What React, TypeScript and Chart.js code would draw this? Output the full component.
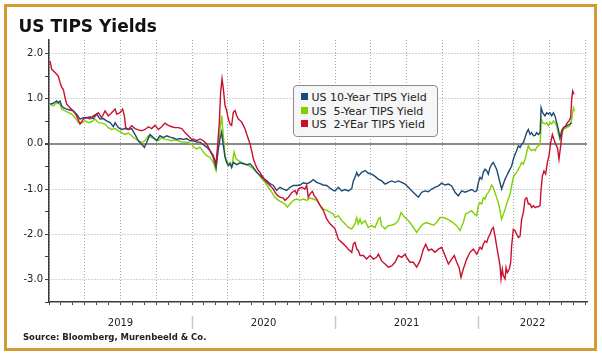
import React, { useEffect, useRef } from "react";
import { Chart, registerables } from "chart.js";

Chart.register(...registerables);

const FONT = "'DejaVu Sans', Verdana, sans-serif";

const SERIES_LABELS = ["US 10-Year TIPS Yield", "US  5-Year TIPS Yield", "US  2-YEar TIPS Yield"];
const SERIES_COLORS = ["#1C4A74", "#7FD000", "#C8102E"];
const YEAR_LABELS = ["2019", "2020", "2021", "2022"];
const YEAR_LABEL_AT = [2019.5, 2020.5, 2021.5, 2022.381];
const YEAR_BREAKS = [2020, 2021, 2022];
const Y_TICKS = [-3.5, -3, -2.5, -2, -1.5, -1, -0.5, 0, 0.5, 1, 1.5, 2];
const X_MIN = 2019;
const X_MAX = 2022.762;
const Y_MIN = -3.5;
const Y_MAX = 2.3;
const TITLE = "US TIPS Yields";
const SOURCE = "Source: Bloomberg, Murenbeeld & Co.";

// [decimal year, yield %]
const TEN_YEAR: [number, number][] = [
  [2019.007,0.88],[2019.030,0.90],[2019.054,0.95],[2019.065,0.91],[2019.077,0.95],[2019.089,0.84],[2019.100,0.80],[2019.124,0.77],[2019.147,0.75],[2019.170,0.73],[2019.193,0.66],[2019.217,0.55],[2019.240,0.58],[2019.263,0.58],[2019.287,0.60],[2019.310,0.56],[2019.333,0.66],[2019.357,0.55],[2019.380,0.56],[2019.403,0.51],[2019.427,0.47],[2019.450,0.38],[2019.462,0.47],[2019.485,0.36],[2019.508,0.32],[2019.531,0.34],[2019.555,0.32],[2019.578,0.34],[2019.601,0.21],[2019.625,0.07],[2019.648,-0.01],[2019.667,-0.08],[2019.683,0.03],[2019.706,0.21],[2019.730,0.14],[2019.753,0.07],[2019.776,0.18],[2019.800,0.14],[2019.823,0.18],[2019.846,0.15],[2019.869,0.13],[2019.893,0.10],[2019.916,0.12],[2019.939,0.10],[2019.963,0.12],[2019.986,0.07],
  [2020.009,0.07],[2020.033,0.04],[2020.056,0.04],[2020.079,-0.02],[2020.103,-0.07],[2020.126,-0.15],[2020.149,-0.30],[2020.168,-0.52],[2020.184,-0.11],[2020.196,0.11],[2020.207,0.26],[2020.219,-0.04],[2020.231,-0.30],[2020.242,-0.41],[2020.254,-0.48],[2020.266,-0.44],[2020.277,-0.52],[2020.289,-0.41],[2020.312,-0.46],[2020.336,-0.42],[2020.359,-0.44],[2020.382,-0.46],[2020.406,-0.44],[2020.429,-0.52],[2020.452,-0.63],[2020.476,-0.70],[2020.499,-0.77],[2020.522,-0.81],[2020.545,-0.88],[2020.569,-0.92],[2020.592,-1.03],[2020.615,-0.96],[2020.639,-1.00],[2020.662,-1.03],[2020.685,-0.96],[2020.709,-0.92],[2020.732,-0.92],[2020.755,-0.91],[2020.779,-0.86],[2020.802,-0.88],[2020.825,-0.85],[2020.848,-0.79],[2020.872,-0.85],[2020.895,-0.88],[2020.918,-0.91],[2020.942,-0.92],[2020.965,-0.98],[2020.988,-1.03],
  [2021.000,-1.04],[2021.023,-0.96],[2021.047,-1.04],[2021.070,-1.01],[2021.093,-1.04],[2021.117,-0.99],[2021.128,-0.82],[2021.140,-0.74],[2021.152,-0.63],[2021.163,-0.71],[2021.175,-0.67],[2021.186,-0.63],[2021.210,-0.59],[2021.233,-0.65],[2021.256,-0.67],[2021.280,-0.72],[2021.303,-0.78],[2021.326,-0.82],[2021.350,-0.89],[2021.373,-0.85],[2021.396,-0.82],[2021.420,-0.85],[2021.443,-0.82],[2021.466,-0.85],[2021.490,-0.89],[2021.513,-0.96],[2021.536,-1.04],[2021.559,-1.11],[2021.583,-1.18],[2021.606,-1.07],[2021.629,-1.04],[2021.653,-1.06],[2021.676,-1.00],[2021.699,-0.96],[2021.723,-0.93],[2021.746,-0.87],[2021.769,-0.91],[2021.793,-0.89],[2021.816,-0.93],[2021.839,-1.07],[2021.862,-1.15],[2021.886,-1.04],[2021.909,-1.07],[2021.932,-1.04],[2021.956,-1.01],[2021.979,-1.06],[2021.991,-1.04],
  [2022.002,-0.86],[2022.014,-0.74],[2022.026,-0.78],[2022.037,-0.63],[2022.049,-0.56],[2022.061,-0.60],[2022.072,-0.67],[2022.084,-0.52],[2022.096,-0.45],[2022.107,-0.41],[2022.119,-0.49],[2022.130,-0.56],[2022.142,-0.71],[2022.154,-0.86],[2022.165,-1.00],[2022.177,-0.89],[2022.189,-0.78],[2022.200,-0.71],[2022.212,-0.63],[2022.224,-0.56],[2022.235,-0.49],[2022.247,-0.34],[2022.259,-0.23],[2022.270,-0.15],[2022.282,-0.04],[2022.294,-0.08],[2022.305,-0.01],[2022.317,0.03],[2022.329,0.14],[2022.340,0.25],[2022.352,0.32],[2022.364,0.21],[2022.375,0.25],[2022.387,0.18],[2022.399,0.19],[2022.410,0.25],[2022.422,0.21],[2022.434,0.25],[2022.441,0.80],[2022.452,0.69],[2022.468,0.62],[2022.480,0.69],[2022.492,0.66],[2022.503,0.69],[2022.515,0.62],[2022.527,0.69],[2022.538,0.62],[2022.550,0.47],[2022.562,0.32],[2022.573,0.14],[2022.585,0.29],[2022.597,0.36],[2022.620,0.40],[2022.643,0.44],[2022.655,0.47],
];

const FIVE_YEAR: [number, number][] = [
  [2019.007,0.88],[2019.030,0.84],[2019.054,0.91],[2019.077,0.88],[2019.089,0.77],[2019.112,0.73],[2019.135,0.69],[2019.159,0.66],[2019.182,0.58],[2019.205,0.47],[2019.228,0.46],[2019.252,0.51],[2019.275,0.47],[2019.298,0.49],[2019.322,0.55],[2019.345,0.47],[2019.368,0.46],[2019.392,0.44],[2019.415,0.36],[2019.438,0.32],[2019.462,0.34],[2019.485,0.29],[2019.508,0.25],[2019.531,0.21],[2019.555,0.24],[2019.578,0.18],[2019.601,0.12],[2019.625,0.07],[2019.648,0.03],[2019.671,0.07],[2019.695,0.18],[2019.718,0.14],[2019.741,0.10],[2019.765,0.07],[2019.788,0.14],[2019.811,0.10],[2019.834,0.09],[2019.858,0.07],[2019.881,0.09],[2019.904,0.07],[2019.928,0.04],[2019.951,0.04],[2019.974,0.03],[2019.998,-0.01],
  [2020.009,-0.07],[2020.033,-0.11],[2020.056,-0.07],[2020.079,-0.18],[2020.103,-0.26],[2020.126,-0.30],[2020.149,-0.41],[2020.168,-0.59],[2020.184,-0.04],[2020.196,0.33],[2020.207,0.63],[2020.219,0.18],[2020.231,-0.26],[2020.242,-0.37],[2020.254,-0.44],[2020.266,-0.41],[2020.277,-0.52],[2020.294,-0.18],[2020.308,-0.33],[2020.324,-0.37],[2020.347,-0.41],[2020.371,-0.44],[2020.394,-0.48],[2020.417,-0.52],[2020.441,-0.59],[2020.464,-0.66],[2020.487,-0.77],[2020.511,-0.85],[2020.534,-0.96],[2020.557,-1.07],[2020.580,-1.18],[2020.604,-1.25],[2020.627,-1.29],[2020.650,-1.33],[2020.667,-1.40],[2020.685,-1.33],[2020.709,-1.25],[2020.732,-1.22],[2020.755,-1.25],[2020.779,-1.22],[2020.802,-1.25],[2020.825,-1.20],[2020.848,-1.22],[2020.872,-1.25],[2020.895,-1.36],[2020.918,-1.44],[2020.942,-1.47],[2020.965,-1.51],[2020.988,-1.55],
  [2021.000,-1.63],[2021.023,-1.59],[2021.047,-1.70],[2021.070,-1.77],[2021.093,-1.85],[2021.117,-1.88],[2021.140,-1.77],[2021.152,-1.63],[2021.163,-1.77],[2021.175,-1.66],[2021.186,-1.77],[2021.210,-1.70],[2021.233,-1.85],[2021.256,-1.81],[2021.280,-1.85],[2021.303,-1.66],[2021.315,-1.63],[2021.326,-1.81],[2021.350,-1.88],[2021.373,-1.81],[2021.396,-1.80],[2021.420,-1.77],[2021.443,-1.70],[2021.462,-1.52],[2021.478,-1.59],[2021.501,-1.66],[2021.524,-1.74],[2021.548,-1.85],[2021.571,-1.96],[2021.594,-1.85],[2021.618,-1.77],[2021.641,-1.74],[2021.664,-1.77],[2021.688,-1.80],[2021.711,-1.74],[2021.734,-1.63],[2021.758,-1.63],[2021.781,-1.66],[2021.804,-1.70],[2021.828,-1.75],[2021.851,-1.81],[2021.874,-1.92],[2021.897,-1.74],[2021.914,-1.55],[2021.932,-1.52],[2021.956,-1.48],[2021.974,-1.55],[2021.991,-1.59],
  [2022.002,-1.37],[2022.014,-1.30],[2022.026,-1.33],[2022.037,-1.19],[2022.049,-1.22],[2022.061,-1.11],[2022.072,-1.08],[2022.084,-1.00],[2022.096,-0.91],[2022.107,-0.97],[2022.119,-1.08],[2022.130,-1.19],[2022.142,-1.30],[2022.154,-1.48],[2022.165,-1.67],[2022.177,-1.56],[2022.189,-1.45],[2022.200,-1.33],[2022.212,-1.22],[2022.224,-1.11],[2022.235,-0.93],[2022.247,-0.74],[2022.259,-0.67],[2022.270,-0.63],[2022.282,-0.56],[2022.294,-0.49],[2022.305,-0.41],[2022.317,-0.45],[2022.329,-0.34],[2022.340,-0.19],[2022.352,-0.04],[2022.364,-0.12],[2022.375,-0.15],[2022.387,-0.12],[2022.399,-0.15],[2022.410,-0.08],[2022.422,-0.04],[2022.434,-0.01],[2022.443,0.55],[2022.452,0.47],[2022.468,0.44],[2022.480,0.47],[2022.492,0.40],[2022.503,0.47],[2022.515,0.44],[2022.527,0.51],[2022.538,0.47],[2022.550,0.40],[2022.562,0.21],[2022.573,0.10],[2022.585,0.21],[2022.597,0.32],[2022.620,0.36],[2022.643,0.40],[2022.655,0.55],[2022.667,0.80],[2022.674,0.73],
];

const TWO_YEAR: [number, number][] = [
  [2019.007,1.84],[2019.019,1.65],[2019.042,1.58],[2019.065,1.50],[2019.077,1.36],[2019.089,1.25],[2019.100,1.21],[2019.112,1.03],[2019.124,0.88],[2019.147,0.80],[2019.170,0.73],[2019.193,0.62],[2019.217,0.44],[2019.240,0.55],[2019.263,0.58],[2019.287,0.55],[2019.310,0.62],[2019.333,0.66],[2019.345,0.69],[2019.368,0.58],[2019.392,0.73],[2019.415,0.62],[2019.438,0.69],[2019.462,0.77],[2019.473,0.66],[2019.497,0.69],[2019.515,0.77],[2019.527,0.62],[2019.536,0.36],[2019.555,0.32],[2019.578,0.40],[2019.601,0.34],[2019.625,0.31],[2019.648,0.29],[2019.671,0.32],[2019.695,0.38],[2019.718,0.34],[2019.741,0.41],[2019.765,0.32],[2019.788,0.38],[2019.811,0.46],[2019.834,0.41],[2019.858,0.38],[2019.881,0.36],[2019.904,0.36],[2019.928,0.34],[2019.951,0.25],[2019.974,0.18],[2019.998,0.10],
  [2020.009,0.11],[2020.033,0.07],[2020.056,0.11],[2020.079,0.07],[2020.103,0.00],[2020.126,-0.15],[2020.149,-0.26],[2020.168,-0.44],[2020.179,-0.04],[2020.191,0.48],[2020.200,1.14],[2020.210,1.44],[2020.219,1.22],[2020.231,0.85],[2020.242,0.74],[2020.254,0.55],[2020.266,0.44],[2020.277,0.41],[2020.289,0.70],[2020.301,0.74],[2020.312,0.63],[2020.324,0.55],[2020.336,0.52],[2020.347,0.48],[2020.359,0.41],[2020.371,0.33],[2020.382,0.22],[2020.394,0.11],[2020.406,0.00],[2020.417,-0.15],[2020.429,-0.33],[2020.441,-0.44],[2020.452,-0.52],[2020.464,-0.59],[2020.476,-0.63],[2020.487,-0.70],[2020.499,-0.74],[2020.511,-0.81],[2020.522,-0.85],[2020.545,-0.92],[2020.569,-1.00],[2020.580,-1.07],[2020.597,-1.14],[2020.615,-1.18],[2020.639,-1.20],[2020.650,-1.25],[2020.674,-1.18],[2020.697,-1.08],[2020.720,-1.03],[2020.732,-1.11],[2020.744,-1.00],[2020.767,-0.96],[2020.790,-1.00],[2020.802,-0.92],[2020.813,-1.18],[2020.825,-1.11],[2020.841,-1.05],[2020.853,-1.14],[2020.872,-1.22],[2020.895,-1.36],[2020.918,-1.47],[2020.942,-1.66],[2020.965,-1.77],[2020.988,-1.84],
  [2021.000,-1.88],[2021.023,-2.11],[2021.047,-2.18],[2021.070,-2.25],[2021.093,-2.33],[2021.117,-2.40],[2021.128,-2.22],[2021.140,-2.18],[2021.152,-2.33],[2021.163,-2.36],[2021.175,-2.47],[2021.198,-2.47],[2021.221,-2.55],[2021.245,-2.47],[2021.268,-2.55],[2021.291,-2.51],[2021.303,-2.44],[2021.326,-2.59],[2021.350,-2.66],[2021.373,-2.73],[2021.396,-2.70],[2021.420,-2.62],[2021.443,-2.47],[2021.466,-2.51],[2021.490,-2.44],[2021.501,-2.51],[2021.524,-2.62],[2021.548,-2.62],[2021.571,-2.73],[2021.594,-2.59],[2021.618,-2.33],[2021.634,-2.22],[2021.653,-2.36],[2021.676,-2.33],[2021.699,-2.40],[2021.723,-2.33],[2021.746,-2.29],[2021.769,-2.47],[2021.793,-2.66],[2021.816,-2.55],[2021.834,-2.47],[2021.851,-2.62],[2021.867,-2.73],[2021.881,-2.95],[2021.897,-2.77],[2021.921,-2.55],[2021.944,-2.40],[2021.967,-2.33],[2021.991,-2.44],
  [2022.002,-2.37],[2022.014,-2.29],[2022.026,-2.33],[2022.037,-2.22],[2022.049,-2.15],[2022.061,-2.18],[2022.072,-2.07],[2022.084,-2.00],[2022.096,-1.89],[2022.107,-1.85],[2022.119,-2.04],[2022.130,-2.26],[2022.142,-2.48],[2022.154,-2.70],[2022.161,-2.99],[2022.170,-2.77],[2022.177,-2.92],[2022.189,-2.99],[2022.196,-2.74],[2022.205,-2.85],[2022.219,-2.77],[2022.228,-2.63],[2022.235,-2.26],[2022.247,-1.89],[2022.259,-1.92],[2022.270,-2.00],[2022.282,-2.07],[2022.294,-2.04],[2022.305,-1.67],[2022.317,-1.52],[2022.329,-1.22],[2022.340,-1.19],[2022.352,-1.33],[2022.364,-1.33],[2022.375,-1.41],[2022.387,-1.37],[2022.399,-1.41],[2022.410,-1.39],[2022.422,-1.39],[2022.434,-1.36],[2022.441,-1.00],[2022.450,-0.71],[2022.461,-0.60],[2022.473,-0.67],[2022.485,-0.41],[2022.496,-0.27],[2022.508,0.03],[2022.520,0.21],[2022.531,0.10],[2022.543,-0.01],[2022.555,-0.08],[2022.566,-0.34],[2022.578,-0.04],[2022.590,0.32],[2022.601,0.36],[2022.613,0.40],[2022.625,0.47],[2022.636,0.51],[2022.648,0.58],[2022.655,0.99],[2022.662,1.17],[2022.671,1.10],
];

const SERIES = [TEN_YEAR, FIVE_YEAR, TWO_YEAR];
const DRAW_ORDER = [2, 3, 1];

type XTick = { value: number; kind: "month" | "quarter" | "label"; label: string };

function buildXTicks(): XTick[] {
  const list: XTick[] = [];
  for (let k = 0; k <= 45; k++) {
    list.push({ value: 2019 + k / 12, kind: k % 3 === 0 ? "quarter" : "month", label: "" });
  }
  YEAR_LABEL_AT.forEach((at, i) => {
    const found = list.find((t) => Math.abs(t.value - at) < 1e-6);
    if (found) found.label = YEAR_LABELS[i];
    else list.push({ value: at, kind: "label", label: YEAR_LABELS[i] });
  });
  list.sort((a, b) => a.value - b.value);
  return list;
}

const GRID = "#a9a9a9";

export default function App() {
  const ref = useRef<HTMLCanvasElement | null>(null);

  useEffect(() => {
    if (!ref.current) return;
    const xTicks = buildXTicks();
    const yearBreaks = {
      id: "yearBreaks",
      afterDraw(chart: any) {
        const { ctx, chartArea, scales } = chart;
        ctx.save();
        ctx.strokeStyle = "#c9c9c9";
        ctx.lineWidth = 1.5;
        YEAR_BREAKS.forEach((yr) => {
          const px = Math.round(scales.x.getPixelForValue(yr)) + 0.5;
          ctx.beginPath();
          ctx.moveTo(px, chartArea.bottom + 14);
          ctx.lineTo(px, chartArea.bottom + 27);
          ctx.stroke();
        });
        ctx.restore();
      },
    };

    const chart = new Chart(ref.current, {
      type: "line",
      data: {
        datasets: SERIES.map((s, i) => ({
          label: SERIES_LABELS[i],
          data: s.map(([x, y]) => ({ x, y })),
          borderColor: SERIES_COLORS[i],
          backgroundColor: SERIES_COLORS[i],
          borderWidth: 1.4,
          pointRadius: 0,
          tension: 0,
          fill: false,
          order: DRAW_ORDER[i],
        })),
      },
      options: {
        animation: false,
        responsive: false,
        devicePixelRatio: 1,
        events: [],
        layout: { padding: { left: 0, top: 40, right: 15, bottom: 24 } },
        plugins: { legend: { display: false }, tooltip: { enabled: false }, title: { display: false } },
        scales: {
          x: {
            type: "linear",
            min: X_MIN,
            max: X_MAX,
            afterBuildTicks: (scale: any) => {
              scale.ticks = xTicks.map((t) => ({ value: t.value }));
            },
            afterFit: (scale: any) => {
              scale.height = 30;
            },
            ticks: {
              autoSkip: false,
              maxRotation: 0,
              minRotation: 0,
              padding: 12,
              color: "#222",
              font: { family: FONT, size: 10 },
              callback: (_v: any, i: number) => (xTicks[i] ? xTicks[i].label : ""),
            },
            grid: {
              color: (c: any) => (xTicks[c.index] && xTicks[c.index].kind === "quarter" && c.tick ? GRID : "rgba(0,0,0,0)"),
              tickColor: (c: any) => (xTicks[c.index] && xTicks[c.index].kind === "label" ? "rgba(0,0,0,0)" : "#444"),
              tickLength: 3,
              lineWidth: 1,
            },
            border: { display: true, color: "#3a3a3a", width: 1.5, dash: (c: any) => (c.tick ? [1, 2] : []) },
          },
          y: {
            type: "linear",
            min: Y_MIN,
            max: Y_MAX,
            afterBuildTicks: (scale: any) => {
              scale.ticks = Y_TICKS.map((v) => ({ value: v }));
            },
            afterFit: (scale: any) => {
              scale.width = 49;
            },
            ticks: {
              padding: 2,
              color: "#222",
              font: { family: FONT, size: 10 },
              callback: (v: any) => (Number.isInteger(Number(v)) ? Number(v).toFixed(1) : ""),
            },
            grid: {
              color: (c: any) => {
                if (!c.tick) return "rgba(0,0,0,0)";
                const v = c.tick.value;
                if (v === 0) return "#8a8a8a";
                return Number.isInteger(v) && v !== Y_MIN ? GRID : "rgba(0,0,0,0)";
              },
              lineWidth: (c: any) => (c.tick && c.tick.value === 0 ? 2 : 1),
              tickColor: "#444",
              tickLength: 4,
            },
            border: {
              display: true,
              color: "#3a3a3a",
              width: 1.5,
              dash: (c: any) => (c.tick && c.tick.value !== 0 ? [1, 2] : []),
            },
          },
        },
      },
      plugins: [yearBreaks],
    } as any);
    return () => chart.destroy();
  }, []);

  const legendTop = 85;
  const rowCenters = [96.6, 110, 123.4];

  return (
    <div style={{ position: "fixed", left: 0, top: 0, width: 602, height: 356, background: "#fff", overflow: "hidden" }}>
      <div
        style={{
          position: "absolute",
          left: 4,
          top: 4,
          width: 593,
          height: 347,
          boxSizing: "border-box",
          border: "3px solid #D39B33",
        }}
      />
      <canvas ref={ref} width={602} height={356} style={{ position: "absolute", left: 0, top: 0, width: 602, height: 356 }} />
      <div
        style={{
          position: "absolute",
          left: 18.5,
          top: 18.3,
          fontFamily: FONT,
          fontWeight: "bold",
          fontSize: 17,
          lineHeight: "17px",
          color: "#111",
          whiteSpace: "pre",
        }}
      >
        {TITLE}
      </div>
      <div
        style={{
          position: "absolute",
          left: 23,
          top: 332.5,
          fontFamily: FONT,
          fontWeight: "bold",
          fontSize: 8.5,
          lineHeight: "8.5px",
          color: "#222",
          whiteSpace: "pre",
        }}
      >
        {SOURCE}
      </div>
      <div
        style={{
          position: "absolute",
          left: 293,
          top: legendTop,
          width: 145,
          height: 52,
          boxSizing: "border-box",
          border: "1px solid #8c8c8c",
          borderRadius: 4,
          background: "#f6f6f6",
        }}
      >
        {SERIES_LABELS.map((lab, i) => (
          <React.Fragment key={lab}>
            <div
              style={{
                position: "absolute",
                left: 7,
                top: rowCenters[i] - 3.5 - legendTop - 1,
                width: 7,
                height: 7,
                background: SERIES_COLORS[i],
              }}
            />
            <div
              style={{
                position: "absolute",
                left: 17.5,
                top: rowCenters[i] + 1 - 6.3 - legendTop - 1,
                fontFamily: FONT,
                fontSize: 11,
                lineHeight: "13px",
                color: "#222",
                whiteSpace: "pre",
              }}
            >
              {lab}
            </div>
          </React.Fragment>
        ))}
      </div>
    </div>
  );
}
